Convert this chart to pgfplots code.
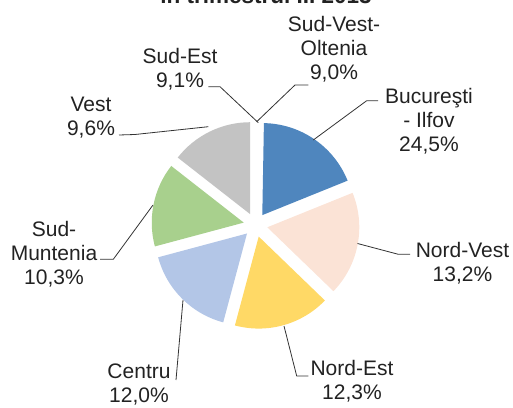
\documentclass[border=0pt]{standalone}
\usepackage{pgfplots}
\pgfplotsset{compat=1.18}
\usepackage{fontspec}
\setmainfont{Liberation Sans}
\usetikzlibrary{calc}
\definecolor{cBuc}{HTML}{4F86BE}
\definecolor{cNV}{HTML}{FBE3D6}
\definecolor{cNE}{HTML}{FFD966}
\definecolor{cCe}{HTML}{B3C6E7}
\definecolor{cSM}{HTML}{A8D08D}
\definecolor{cVe}{HTML}{C3C3C3}
\definecolor{txt}{HTML}{222222}
\definecolor{lead}{HTML}{333333}
\tikzset{lab/.style={font=\fontsize{21}{24}\selectfont, text=txt, align=center, inner sep=0pt}}
\begin{document}
\begin{tikzpicture}
\useasboundingbox (0pt,0pt) rectangle (513pt,407pt);
\clip (0pt,0pt) rectangle (513pt,407pt);
\begin{axis}[at={(0pt,0pt)}, anchor=south west, scale only axis,
  width=513pt, height=407pt, xmin=0, xmax=513, ymin=-407, ymax=0,
  hide axis, clip=false]
% pie slices: start angle, end angle (degrees), explode along bisector
\fill[cBuc] ($(axis cs:255.5,-225)+(55.5:12pt)$) -- ++(89:92pt) arc[start angle=89, end angle=22, radius=92pt] -- cycle;
\fill[cNV]  ($(axis cs:255.5,-225)+(-11:12pt)$) -- ++(22:92pt) arc[start angle=22, end angle=-44, radius=92pt] -- cycle;
\fill[cNE]  ($(axis cs:255.5,-225)+(-74.5:12pt)$) -- ++(-44:92pt) arc[start angle=-44, end angle=-105, radius=92pt] -- cycle;
\fill[cCe]  ($(axis cs:255.5,-225)+(-135:12pt)$) -- ++(-105:92pt) arc[start angle=-105, end angle=-165, radius=92pt] -- cycle;
\fill[cSM]  ($(axis cs:255.5,-225)+(-191.5:12pt)$) -- ++(-165:92pt) arc[start angle=-165, end angle=-218, radius=92pt] -- cycle;
\fill[cVe]  ($(axis cs:255.5,-225)+(-244:12pt)$) -- ++(-218:92pt) arc[start angle=-218, end angle=-270, radius=92pt] -- cycle;
% leader lines
\addplot[lead, line width=0.8pt, no marks] coordinates {(308.3,-85) (295,-85) (256.7,-121.7)};
\addplot[lead, line width=0.8pt, no marks] coordinates {(378,-100.7) (366.7,-100.7) (313.3,-140)};
\addplot[lead, line width=0.8pt, no marks] coordinates {(208.3,-86.7) (220,-86.7) (258.3,-122.7)};
\addplot[lead, line width=0.8pt, no marks] coordinates {(119,-135) (135,-134.5) (208.3,-126.7)};
\addplot[lead, line width=0.8pt, no marks] coordinates {(100,-259.3) (113.3,-259.3) (153,-205)};
\addplot[lead, line width=0.8pt, no marks] coordinates {(410,-254.3) (398.3,-254.3) (357.5,-243.5)};
\addplot[lead, line width=0.8pt, no marks] coordinates {(176,-380) (183,-300)};
\addplot[lead, line width=0.8pt, no marks] coordinates {(308.3,-376) (296.7,-376) (284,-326)};
% labels
\node[anchor=base, text=txt, font=\fontsize{22.5}{27}\selectfont\bfseries] at (axis cs:266,-3.5) {în trimestrul III 2013};
\node[lab] at (axis cs:334,-49) {Sud-Vest-\\Oltenia\\9,0\%};
\node[lab] at (axis cs:429,-121.5) {Bucureşti\\- Ilfov\\24,5\%};
\node[lab] at (axis cs:180,-69) {Sud-Est\\9,1\%};
\node[lab] at (axis cs:91,-117.5) {Vest\\9,6\%};
\node[lab] at (axis cs:54,-254) {Sud-\\Muntenia\\10,3\%};
\node[lab] at (axis cs:462.5,-263.5) {Nord-Vest\\13,2\%};
\node[lab] at (axis cs:139,-385) {Centru\\12,0\%};
\node[lab] at (axis cs:352,-381.5) {Nord-Est\\12,3\%};
\end{axis}
\end{tikzpicture}
\end{document}
